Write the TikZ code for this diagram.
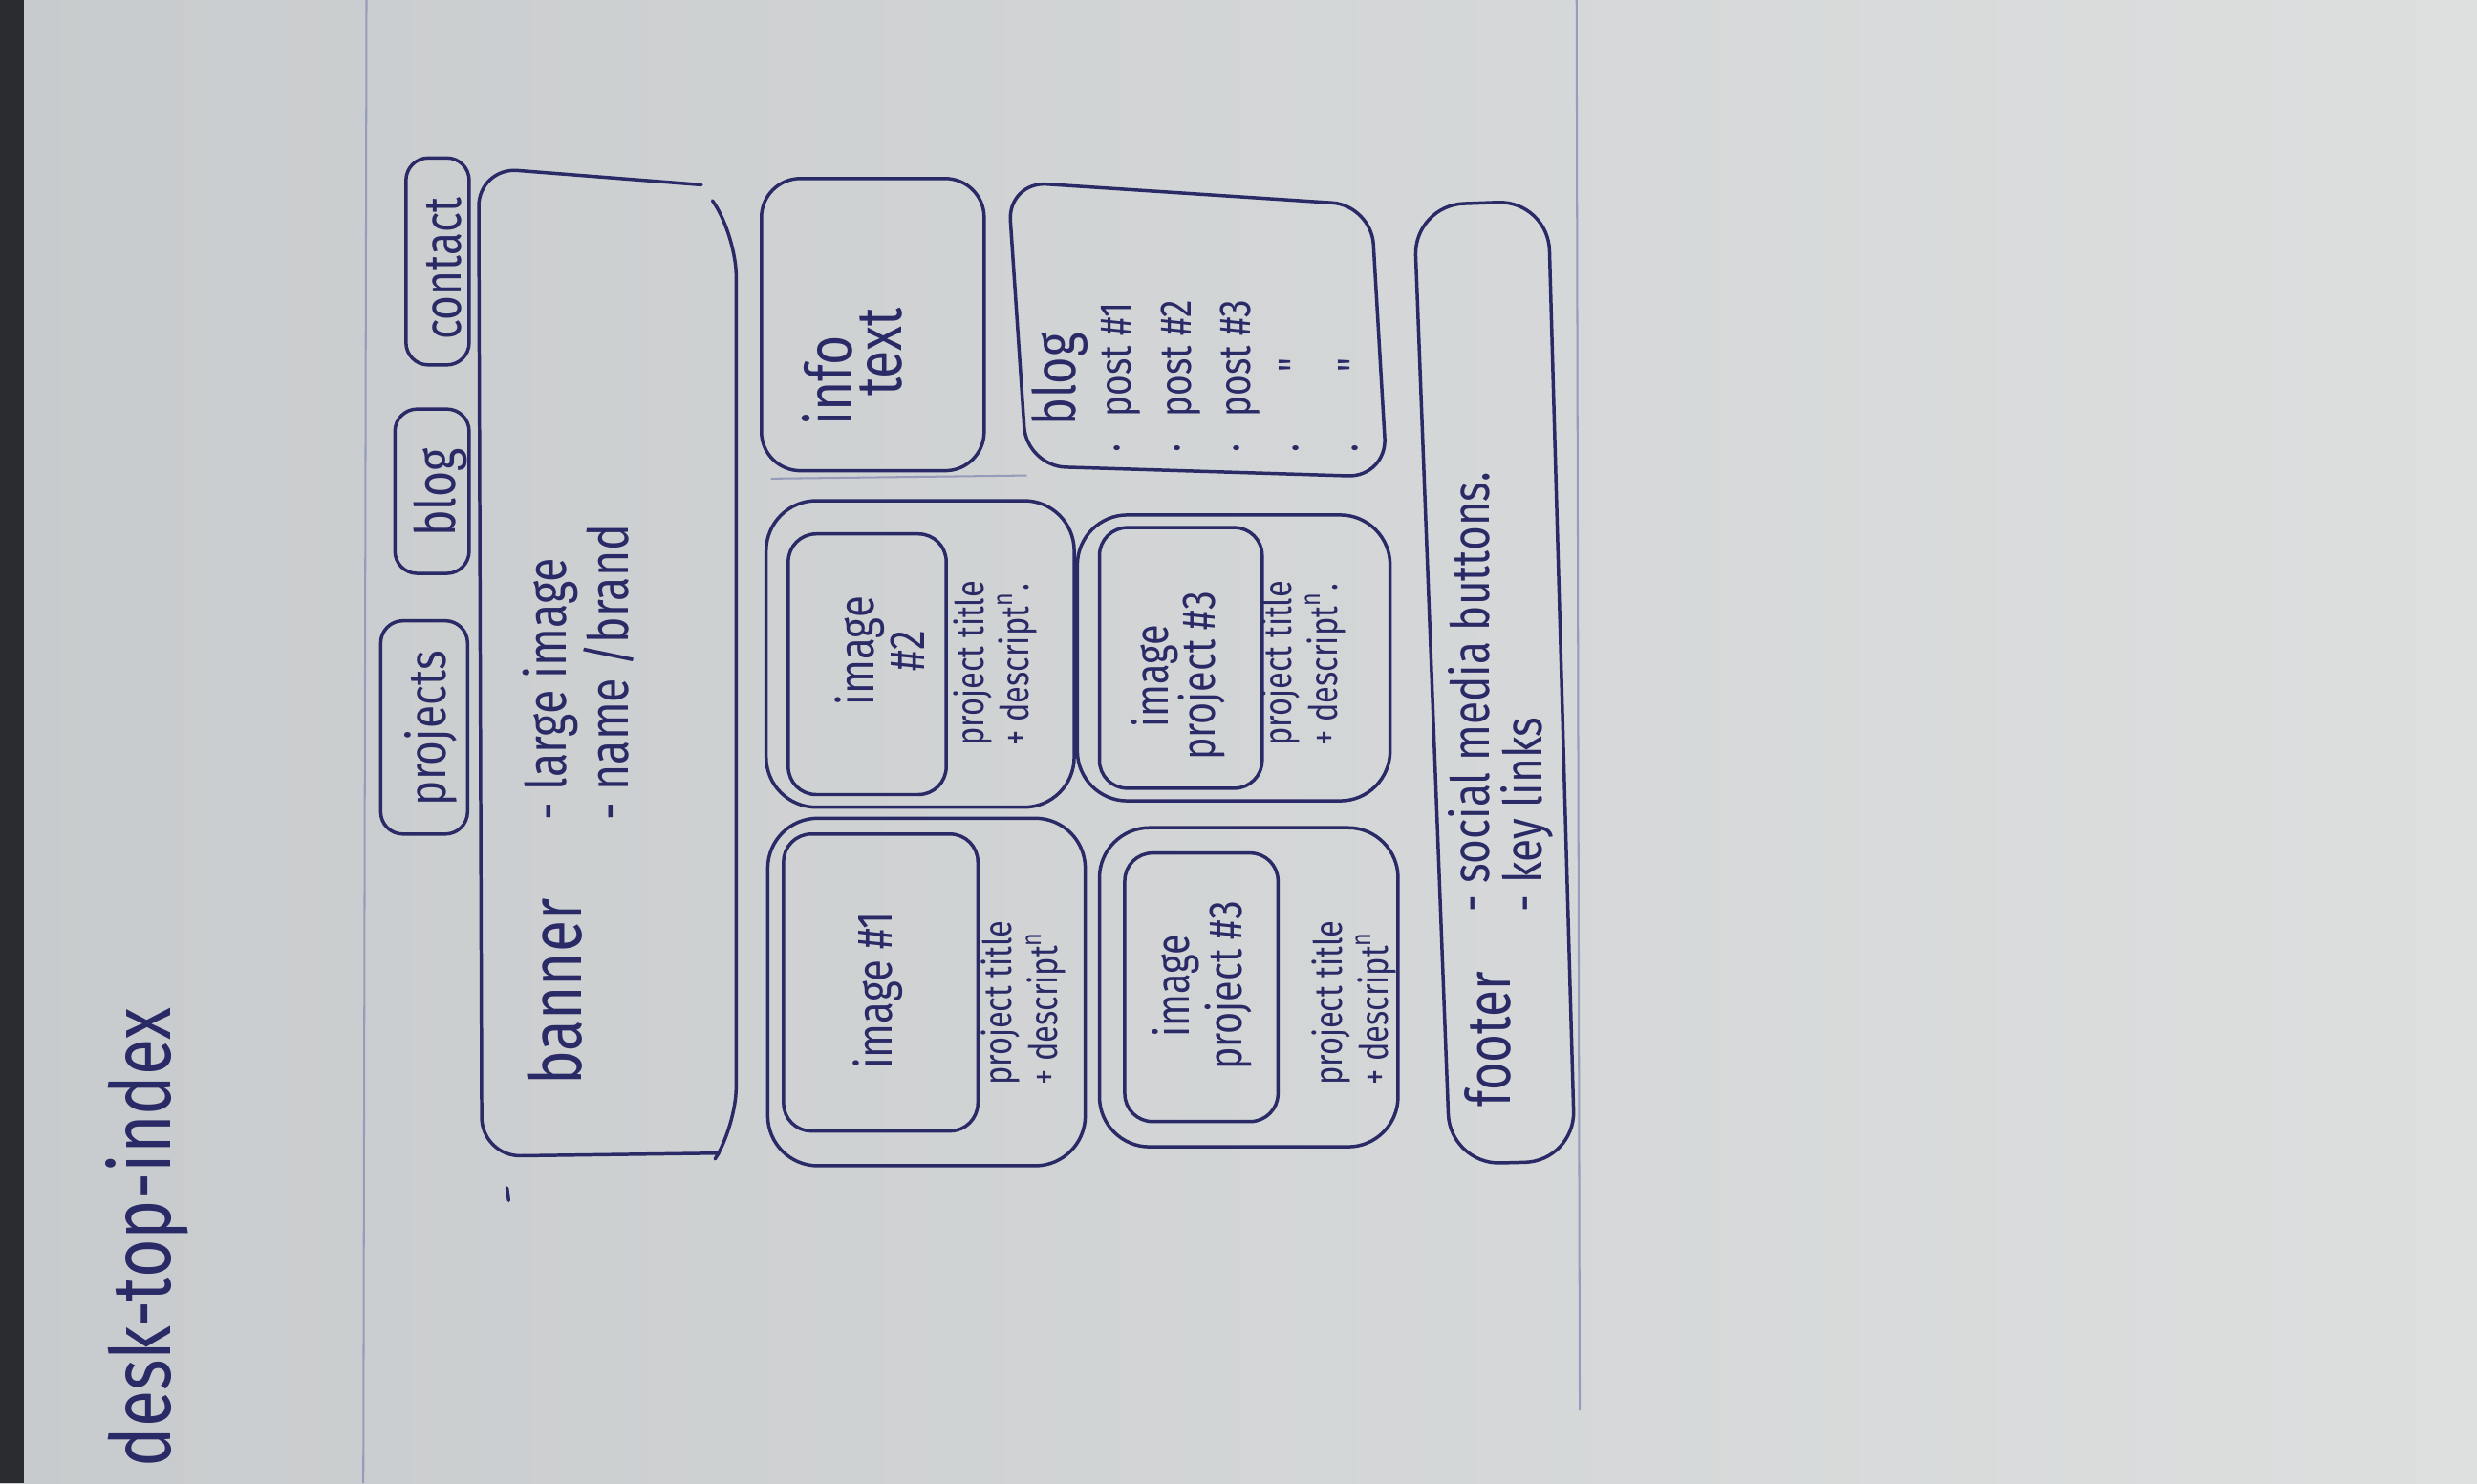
\documentclass[tikz,border=0pt]{standalone}
\usepackage{fontspec}
\newfontfamily\sketchfont[FakeStretch=0.8]{Fira Sans}
\newcommand\penfnt[2]{\sketchfont\fontsize{#1pt}{#2pt}\selectfont}
\definecolor{ink}{RGB}{42,42,102}
\definecolor{paperL}{RGB}{200,203,205}
\definecolor{paperR}{RGB}{221,223,223}
\definecolor{pencil}{RGB}{150,156,186}
\definecolor{binding}{RGB}{42,44,48}
\tikzset{
  ink/.style={draw=ink, line width=0.6pt, line join=round, line cap=round},
  panel/.style={ink, rounded corners=7pt},
  tabbox/.style={ink, rounded corners=4pt},
  imgbox/.style={ink, rounded corners=5pt},
  pencil/.style={draw=pencil, line width=0.35pt},
  note/.style={text=ink, rotate=90, inner sep=0pt, align=left}
}
\begin{document}
\begin{tikzpicture}[x=0.01cm, y=-0.01cm]
\useasboundingbox (0,0) rectangle (1568,939);
\shade[left color=paperL, right color=paperR] (0,0) rectangle (1568,939);
\fill[binding] (0,0) rectangle (15,939);
\draw[pencil] (232,0) -- (230,939);
\draw[pencil] (998,0) -- (1000,893);
\draw[pencil] (488,303) -- (650,301);
\draw[ink] (321,752) -- (322,760);

\node[note, anchor=east, font=\penfnt{15}{15}] (title) at (93,637) {desk-top-index};

\draw[tabbox] (241,393) rectangle (296,528);
\draw[tabbox] (250,259) rectangle (297,363);
\draw[tabbox] (257,100) rectangle (297,231);
\node[note, font=\penfnt{9.5}{9.5}] (projects) at (273,461) {projects};
\node[note, font=\penfnt{10}{10}] (blogtab) at (279,312) {blog};
\node[note, font=\penfnt{9.5}{9.5}] (contact) at (281,170) {contact};

\draw[panel] (444,117) -- (303,106) -- (305,732) -- (455,730);
\draw[panel] (451,127) -- (466,150) -- (466,713) -- (455,730);
\node[note, font=\penfnt{13}{13}] (banner) at (351,628) {banner};
\node[note, anchor=west, font=\penfnt{10}{10}] (bannerlist) at (366,520) {- large image\\- name /brand};

\draw[panel] (482,113) rectangle (623,298);
\node[note, font=\penfnt{11.5}{11.5}] (info) at (524,241) {info};
\node[note, font=\penfnt{11.5}{11.5}] (infotext) at (558,223) {text};

\draw[panel] (638,115) -- (868,130) -- (878,302) -- (650,295) -- cycle;
\node[note, anchor=west, font=\penfnt{10.5}{10.5}] (blog) at (671,270) {blog};
\node[note, anchor=west, font=\penfnt{8}{10.7}] (posts) at (782,287) {·\hspace{0.6em}post \#1\\·\hspace{0.6em}post \#2\\·\hspace{0.6em}post \#3\\·\hspace{1.6em}\textquotedbl\\·\hspace{1.6em}\textquotedbl};

\draw[panel, rounded corners=9pt] (485,317) rectangle (680,511);
\draw[imgbox] (499,338) rectangle (599,503);
\node[note, align=center, font=\penfnt{9}{7.5}] (img2) at (557,412) {image\\\#2};
\node[note, font=\penfnt{7}{5.8}] (cap2) at (630,420) {project title\\+ descript\textsuperscript{n}.};

\draw[panel, rounded corners=9pt] (486,518) rectangle (687,738);
\draw[imgbox] (496,528) rectangle (619,716);
\node[note, font=\penfnt{9}{9}] (img1) at (556,627) {image \#1};
\node[note, font=\penfnt{7}{5.8}] (cap1) at (648,635) {project title\\+ descript\textsuperscript{n}};

\draw[panel, rounded corners=9pt] (682,326) rectangle (880,507);
\draw[imgbox] (696,334) rectangle (799,499);
\node[note, align=center, font=\penfnt{8.5}{8.5}] (img3) at (746,428) {image\\project \#3};
\node[note, font=\penfnt{7}{5.8}] (cap3) at (825,420) {project title\\+ descript\textsuperscript{n}.};

\draw[panel, rounded corners=9pt] (696,524) rectangle (885,726);
\draw[imgbox] (712,540) rectangle (809,710);
\node[note, align=center, font=\penfnt{8.5}{8}] (img4) at (761,624) {image\\project \#3};
\node[note, font=\penfnt{7}{5.8}] (cap4) at (857,635) {project title\\+ descript\textsuperscript{n}};

\draw[panel, rounded corners=9pt] (895,130) -- (980,127) -- (997,735) -- (918,737) -- cycle;
\node[note, font=\penfnt{11}{11}] (footer) at (942,658) {footer};
\node[note, anchor=west, font=\penfnt{9.5}{9.5}] (footerlist) at (950,578) {- social media buttons.\\- key links};
\end{tikzpicture}
\end{document}
